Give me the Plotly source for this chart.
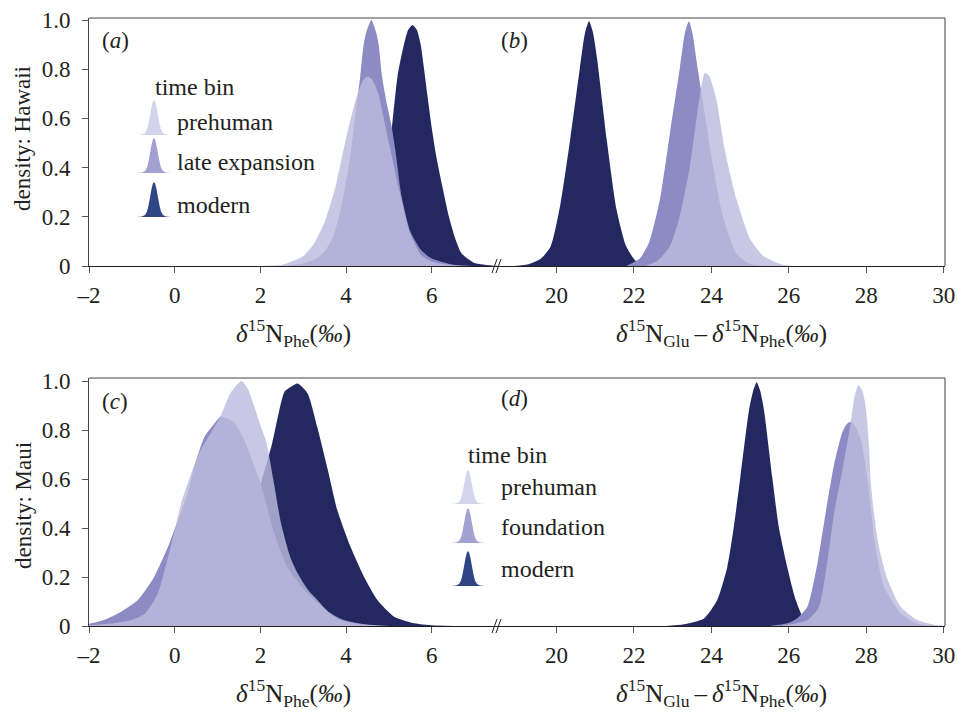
import plotly.graph_objects as go

W, H = 957, 713

# ---------------- data ----------------
# (a) Hawaii, d15N Phe
a_pre_x = [2.0, 2.5, 3.0, 3.25, 3.5, 3.75, 4.0, 4.25, 4.4, 4.5, 4.6, 4.75, 5.0, 5.25, 5.5, 5.75, 6.0, 6.5, 7.0]
a_pre_y = [0.0, 0.005, 0.04, 0.09, 0.18, 0.32, 0.52, 0.69, 0.755, 0.77, 0.76, 0.7, 0.5, 0.3, 0.13, 0.045, 0.018, 0.003, 0.0]
a_late_x = [2.5, 3.0, 3.3, 3.5, 3.7, 3.9, 4.1, 4.22, 4.33, 4.41, 4.47, 4.59, 4.7, 4.76, 4.84, 4.95, 5.06, 5.15, 5.3,
            5.5, 5.75, 6.0, 6.5, 7.0]
a_late_y = [0.0, 0.01, 0.03, 0.06, 0.12, 0.25, 0.45, 0.62, 0.77, 0.9, 0.95, 1.0, 0.95, 0.9, 0.77, 0.66, 0.57, 0.47, 0.28,
            0.14, 0.065, 0.03, 0.005, 0.0]
a_mod_x = [4.0, 4.3, 4.6, 4.8, 5.0, 5.2, 5.35, 5.45, 5.55, 5.65, 5.74, 5.82, 5.9, 6.0, 6.1, 6.25, 6.4, 6.55, 6.7, 7.0,
           7.4, 7.6]
a_mod_y = [0.0, 0.01, 0.08, 0.2, 0.45, 0.77, 0.9, 0.96, 0.98, 0.96, 0.9, 0.8, 0.69, 0.56, 0.45, 0.32, 0.2, 0.11, 0.05,
           0.012, 0.002, 0.0]

# (b) Hawaii, d15N Glu - d15N Phe
b_pre_x = [22.3, 22.6, 22.93, 23.18, 23.44, 23.7, 23.83, 23.95, 24.13, 24.35, 24.65, 25.0, 25.35, 25.85, 26.2]
b_pre_y = [0.0, 0.02, 0.08, 0.2, 0.4, 0.69, 0.785, 0.77, 0.675, 0.47, 0.27, 0.11, 0.04, 0.005, 0.0]
b_late_x = [21.8, 22.15, 22.4, 22.67, 22.93, 23.19, 23.32, 23.42, 23.52, 23.62, 23.78, 24.05, 24.3, 24.65, 25.0, 25.4]
b_late_y = [0.0, 0.03, 0.1, 0.27, 0.54, 0.81, 0.95, 0.995, 0.94, 0.83, 0.67, 0.4, 0.2, 0.05, 0.008, 0.0]
b_mod_x = [18.9, 19.3, 19.6, 19.85, 20.1, 20.35, 20.6, 20.74, 20.84, 20.94, 21.05, 21.3, 21.55, 21.8, 22.05, 22.4]
b_mod_y = [0.0, 0.008, 0.03, 0.08, 0.25, 0.51, 0.8, 0.95, 0.995, 0.95, 0.84, 0.51, 0.23, 0.08, 0.02, 0.0]

# (c) Maui, d15N Phe
c_pre_x = [-2.2, -1.5, -1.0, -0.7, -0.4, -0.2, 0.0, 0.15, 0.4, 0.61, 0.85, 1.08, 1.3, 1.56, 1.7, 1.86, 2.0, 2.14,
           2.3, 2.48, 2.7, 2.87, 3.1, 3.33, 3.6, 3.88, 4.3, 5.0]
c_pre_y = [0.0, 0.01, 0.025, 0.05, 0.13, 0.25, 0.39, 0.5, 0.63, 0.72, 0.79, 0.86, 0.95, 1.0, 0.97, 0.895, 0.82, 0.75,
           0.6, 0.42, 0.28, 0.215, 0.15, 0.106, 0.055, 0.024, 0.008, 0.0]
c_fou_x = [-2.3, -1.95, -1.56, -1.25, -0.86, -0.48, -0.165, 0.07, 0.3, 0.457, 0.69, 0.9, 1.08, 1.39, 1.62, 1.8, 2.01,
           2.09, 2.32, 2.63, 3.1, 3.64, 3.95, 4.5, 5.0]
c_fou_y = [0.004, 0.011, 0.031, 0.058, 0.106, 0.2, 0.32, 0.43, 0.54, 0.65, 0.77, 0.82, 0.855, 0.83, 0.76, 0.68, 0.58,
           0.53, 0.38, 0.24, 0.133, 0.052, 0.024, 0.005, 0.0]
c_mod_x = [0.3, 0.8, 1.2, 1.5, 1.8, 2.01, 2.14, 2.28, 2.44, 2.56, 2.7, 2.87, 3.1, 3.33, 3.57, 3.8, 4.11, 4.42, 4.73,
           5.12, 5.59, 6.0, 6.5]
c_mod_y = [0.0, 0.02, 0.08, 0.2, 0.4, 0.58, 0.66, 0.75, 0.88, 0.955, 0.975, 0.99, 0.95, 0.81, 0.64, 0.47, 0.32, 0.2,
           0.106, 0.038, 0.011, 0.003, 0.0]

# (d) Maui, d15N Glu - d15N Phe
d_pre_x = [25.8, 26.48, 26.78, 26.99, 27.17, 27.4, 27.6, 27.7, 27.8, 27.9, 27.98, 28.07, 28.11, 28.2, 28.33, 28.55,
           28.89, 29.32, 29.75, 30.2]
d_pre_y = [0.0, 0.024, 0.079, 0.256, 0.46, 0.65, 0.83, 0.94, 0.984, 0.96, 0.9, 0.74, 0.6, 0.46, 0.32, 0.19,
           0.079, 0.024, 0.005, 0.0]
d_fou_x = [25.5, 25.96, 26.2, 26.48, 26.74, 26.95, 27.17, 27.38, 27.5, 27.6, 27.7, 27.86, 28.03, 28.24, 28.46, 28.89,
           29.3, 30.0]
d_fou_y = [0.0, 0.011, 0.03, 0.079, 0.256, 0.46, 0.66, 0.79, 0.825, 0.834, 0.82, 0.76, 0.6, 0.32, 0.16, 0.052,
           0.01, 0.0]
d_mod_x = [22.8, 23.29, 23.81, 24.15, 24.41, 24.58, 24.75, 24.97, 25.08, 25.17, 25.26, 25.36, 25.57, 25.74, 25.96,
           26.18, 26.39, 26.7, 27.2]
d_mod_y = [0.0, 0.007, 0.031, 0.106, 0.24, 0.405, 0.61, 0.88, 0.96, 0.995, 0.96, 0.88, 0.61, 0.405, 0.24, 0.106,
           0.03, 0.006, 0.0]

left_ticks = [-2, 0, 2, 4, 6]
left_ticktext = ["\u20132", "0", "2", "4", "6"]
right_ticks = [20, 22, 24, 26, 28, 30]
y_ticks = [0, 0.2, 0.4, 0.6, 0.8, 1.0]
y_ticktext = ["0", "0.2", "0.4", "0.6", "0.8", "1.0"]

top_legend = ["prehuman", "late expansion", "modern"]
bottom_legend = ["prehuman", "foundation", "modern"]

# ---------------- style ----------------
FONT = "Liberation Serif, Times New Roman, serif"
TXT = "#231f20"
C_MOD = "#232860"
C_LATE = "#8d8bc4"
C_PRE = "rgba(188,188,222,0.82)"
ICON_COLORS = ["#d4d4ec", "#a3a1d1", "#2f4685"]


def X(px):
    return px / W


def Y(py):
    return 1 - py / H


fig = go.Figure()


def area(x, y, color, xa, ya):
    fig.add_trace(go.Scatter(x=x, y=y, mode="lines", fill="tozeroy", fillcolor=color,
                             line=dict(width=0, shape="spline", smoothing=0.6, color=color),
                             xaxis=xa, yaxis=ya, hoverinfo="skip", showlegend=False))


area(a_mod_x, a_mod_y, C_MOD, "x", "y")
area(a_late_x, a_late_y, C_LATE, "x", "y")
area(a_pre_x, a_pre_y, C_PRE, "x", "y")
area(b_mod_x, b_mod_y, C_MOD, "x2", "y")
area(b_late_x, b_late_y, C_LATE, "x2", "y")
area(b_pre_x, b_pre_y, C_PRE, "x2", "y")
area(c_mod_x, c_mod_y, C_MOD, "x3", "y2")
area(c_fou_x, c_fou_y, C_LATE, "x3", "y2")
area(c_pre_x, c_pre_y, C_PRE, "x3", "y2")
area(d_mod_x, d_mod_y, C_MOD, "x4", "y2")
area(d_fou_x, d_fou_y, C_LATE, "x4", "y2")
area(d_pre_x, d_pre_y, C_PRE, "x4", "y2")

# geometry (pixels)
XL0, XB, XR1 = 89, 497, 945
TOP = dict(top=18, base=266)
BOT = dict(top=378, base=626)
left_range = [-2, -2 + (XB - XL0) / 42.85]
right_range = [20 - (556.5 - XB) / 38.72, 20 + (XR1 - 556.5) / 38.72]

tickfont = dict(family=FONT, size=23, color=TXT)
common_x = dict(showline=True, linecolor=TXT, linewidth=1.4, ticks="outside", ticklen=6, tickwidth=1,
                tickcolor="#555", showgrid=False, zeroline=False, tickfont=tickfont, ticklabelstandoff=2,
                fixedrange=True, automargin=False)
common_y = dict(showline=True, linecolor="#444", linewidth=1, ticks="outside", ticklen=6, tickwidth=1,
                tickcolor="#555", showgrid=False, zeroline=False, tickfont=tickfont, tickvals=y_ticks,
                ticktext=y_ticktext, ticklabelstandoff=7, fixedrange=True, automargin=False)

fig.update_layout(
    width=W, height=H, margin=dict(l=0, r=0, t=0, b=0, pad=0, autoexpand=False),
    paper_bgcolor="white", plot_bgcolor="rgba(0,0,0,0)", showlegend=False,
    xaxis=dict(domain=[X(XL0), X(XB)], range=left_range, anchor="y", tickvals=left_ticks,
               ticktext=left_ticktext, **common_x),
    xaxis2=dict(domain=[X(XB), X(XR1)], range=right_range, anchor="y", tickvals=right_ticks, **common_x),
    xaxis3=dict(domain=[X(XL0), X(XB)], range=left_range, anchor="y2", tickvals=left_ticks,
                ticktext=left_ticktext, **common_x),
    xaxis4=dict(domain=[X(XB), X(XR1)], range=right_range, anchor="y2", tickvals=right_ticks, **common_x),
    yaxis=dict(domain=[Y(TOP["base"]), Y(TOP["top"])], range=[0, (TOP["base"] - TOP["top"]) / 246],
               anchor="x", **common_y),
    yaxis2=dict(domain=[Y(BOT["base"]), Y(BOT["top"])], range=[0, (BOT["base"] - BOT["top"]) / 245],
                anchor="x3", **common_y),
)

shapes = []
annotations = []

for P in (TOP, BOT):
    # frame (top / right)
    shapes.append(dict(type="line", xref="paper", yref="paper", x0=X(XL0), x1=X(XR1), y0=Y(P["top"]),
                       y1=Y(P["top"]), line=dict(color="#444", width=1), layer="above"))
    shapes.append(dict(type="line", xref="paper", yref="paper", x0=X(XR1), x1=X(XR1), y0=Y(P["top"]),
                       y1=Y(P["base"]), line=dict(color="#444", width=1), layer="above"))
    # axis break marks
    for off in (-2.5, 1.5):
        shapes.append(dict(type="line", xref="paper", yref="paper", x0=X(XB + off - 2.5), x1=X(XB + off + 2.5),
                           y0=Y(P["base"] + 7), y1=Y(P["base"] - 7), line=dict(color=TXT, width=1),
                           layer="above"))

# axis titles
phe = "<i>\u03b4</i><sup>15</sup>N<sub>Phe</sub>(<i>\u2030</i>)"
glu = "<i>\u03b4</i><sup>15</sup>N<sub>Glu</sub>\u2009\u2013\u2009<i>\u03b4</i><sup>15</sup>N<sub>Phe</sub>(<i>\u2030</i>)"
tfont = dict(family=FONT, size=25, color=TXT)
yfont = dict(family=FONT, size=23, color=TXT)
for yc in (333, 693):
    annotations.append(dict(xref="paper", yref="paper", x=X((XL0 + XB) / 2), y=Y(yc), text=phe,
                            showarrow=False, font=tfont, xanchor="center", yanchor="middle"))
    annotations.append(dict(xref="paper", yref="paper", x=X((XB + XR1) / 2), y=Y(yc), text=glu,
                            showarrow=False, font=tfont, xanchor="center", yanchor="middle"))

annotations.append(dict(xref="paper", yref="paper", x=X(23), y=Y(139), text="density: Hawaii", textangle=-90,
                        showarrow=False, font=yfont, xanchor="center", yanchor="middle"))
annotations.append(dict(xref="paper", yref="paper", x=X(23), y=Y(506), text="density: Maui", textangle=-90,
                        showarrow=False, font=yfont, xanchor="center", yanchor="middle"))

# panel labels
for lab, px, py in (("a", 115, 40), ("b", 514, 40), ("c", 115, 401), ("d", 514, 399)):
    annotations.append(dict(xref="paper", yref="paper", x=X(px), y=Y(py), text=f"(<i>{lab}</i>)",
                            showarrow=False, font=yfont, xanchor="center", yanchor="middle"))

# legends with small density icons
ICON_PROFILE = [(-17, 0.0), (-12, 0.015), (-9, 0.06), (-7, 0.16), (-5.5, 0.33), (-4, 0.56), (-2.5, 0.8),
                (-1.2, 0.95), (0, 1.0), (1.2, 0.95), (2.5, 0.8), (4, 0.56), (5.5, 0.33), (7, 0.16),
                (9, 0.06), (12, 0.015), (17, 0.0)]


def icon(cx, peak, base, color):
    h = base - peak
    pts = [(cx + dx, base - f * h) for dx, f in ICON_PROFILE]
    d = "M " + " L ".join(f"{X(px):.5f},{Y(py):.5f}" for px, py in pts) + " Z"
    shapes.append(dict(type="path", xref="paper", yref="paper", path=d, fillcolor=color,
                       line=dict(width=0), layer="above"))


lfont = dict(family=FONT, size=24, color=TXT)


def legend(cx, title_x, title_y, text_x, items, icon_rows, text_rows):
    annotations.append(dict(xref="paper", yref="paper", x=X(title_x), y=Y(title_y), text="time bin",
                            showarrow=False, font=lfont, xanchor="left", yanchor="middle"))
    for name, (pk, bs), ty, col in zip(items, icon_rows, text_rows, ICON_COLORS):
        icon(cx, pk, bs, col)
        annotations.append(dict(xref="paper", yref="paper", x=X(text_x), y=Y(ty), text=name,
                                showarrow=False, font=lfont, xanchor="left", yanchor="middle"))


legend(154, 153, 87, 175, top_legend, [(100, 135), (138, 173), (182, 217)], [122, 162, 205])
legend(468, 466, 455, 499, bottom_legend, [(470, 504), (508, 543), (551, 586)], [487, 527, 569])

fig.update_layout(shapes=shapes, annotations=annotations)
fig.write_html("out.html", config={"displayModeBar": False},
               post_script="document.body.style.margin='0';document.body.style.overflow='hidden';")
